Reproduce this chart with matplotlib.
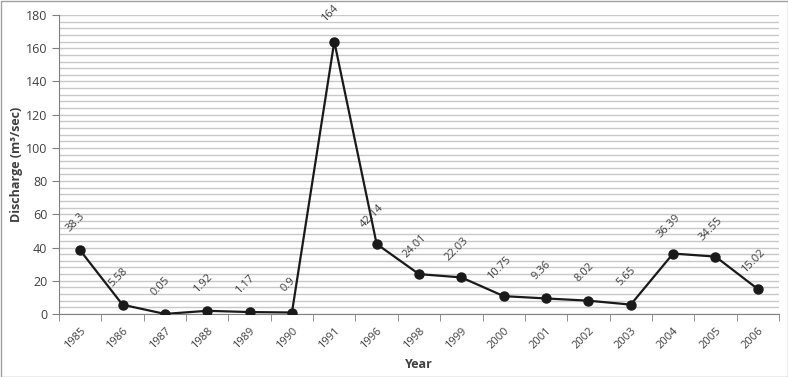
import numpy as np
import matplotlib.pyplot as plt
from matplotlib.patches import Rectangle

years = ['1985', '1986', '1987', '1988', '1989', '1990', '1991', '1996',
         '1998', '1999', '2000', '2001', '2002', '2003', '2004', '2005', '2006']
discharge = [38.3, 5.58, 0.05, 1.92, 1.17, 0.9, 164, 42.14,
             24.01, 22.03, 10.75, 9.36, 8.02, 5.65, 36.39, 34.55, 15.02]
labels = ['38.3', '5.58', '0.05', '1.92', '1.17', '0.9', '164', '42.14',
          '24.01', '22.03', '10.75', '9.36', '8.02', '5.65', '36.39', '34.55', '15.02']

plt.rcParams['font.family'] = ['Open Sans', 'DejaVu Sans']
txt = '#404040'

fig = plt.figure(figsize=(7.88, 3.77), dpi=100)
ax = fig.add_axes([59 / 788, 1 - 314 / 377, (779 - 59) / 788, (314 - 15) / 377])

x = np.arange(len(years))
ax.plot(x, discharge, color='#1a1a1a', lw=1.6, marker='o', ms=6.5,
        mec='#1a1a1a', mfc='#1a1a1a', zorder=3)

for xi, yi, lab in zip(x, discharge, labels):
    ax.annotate(lab, (xi, yi), xytext=(-3, 20), textcoords='offset points',
                rotation=45, ha='center', va='center', fontsize=8,
                color=txt, rotation_mode='anchor')

ax.set_xlim(-0.5, len(years) - 0.5)
ax.set_ylim(0, 180)
ax.set_yticks(np.arange(0, 181, 20))
ax.set_yticks(np.arange(0, 181, 4), minor=True)
ax.grid(axis='y', which='both', color='#c8c8c8', lw=1.0, zorder=0)
ax.set_axisbelow(True)

# category ticks sit between the categories
ax.set_xticks(x)
ax.set_xticklabels(years, rotation=45, ha='right', rotation_mode='anchor',
                   fontsize=8, color=txt)
ax.set_xticks(np.arange(-0.5, len(years), 1), minor=True)
ax.tick_params(axis='x', which='major', length=0, pad=8)
ax.tick_params(axis='x', which='minor', length=5, color='#808080')
ax.tick_params(axis='y', which='major', length=5, color='#808080',
               labelsize=9, labelcolor=txt)
ax.tick_params(axis='y', which='minor', length=0)

for s in ['top', 'right']:
    ax.spines[s].set_visible(False)
for s in ['left', 'bottom']:
    ax.spines[s].set_color('#808080')

ax.set_ylabel('Discharge (m³/sec)', fontsize=9, fontweight='bold',
              color=txt, labelpad=2)
ax.set_xlabel('Year', fontsize=9, fontweight='bold', color=txt, labelpad=5)

fig.patches.append(Rectangle((0.5 / 788, 0.5 / 377), 787 / 788, 376 / 377,
                             transform=fig.transFigure, fill=False,
                             ec='#a0a0a0', lw=1))

fig.savefig('out.png', dpi=100)
